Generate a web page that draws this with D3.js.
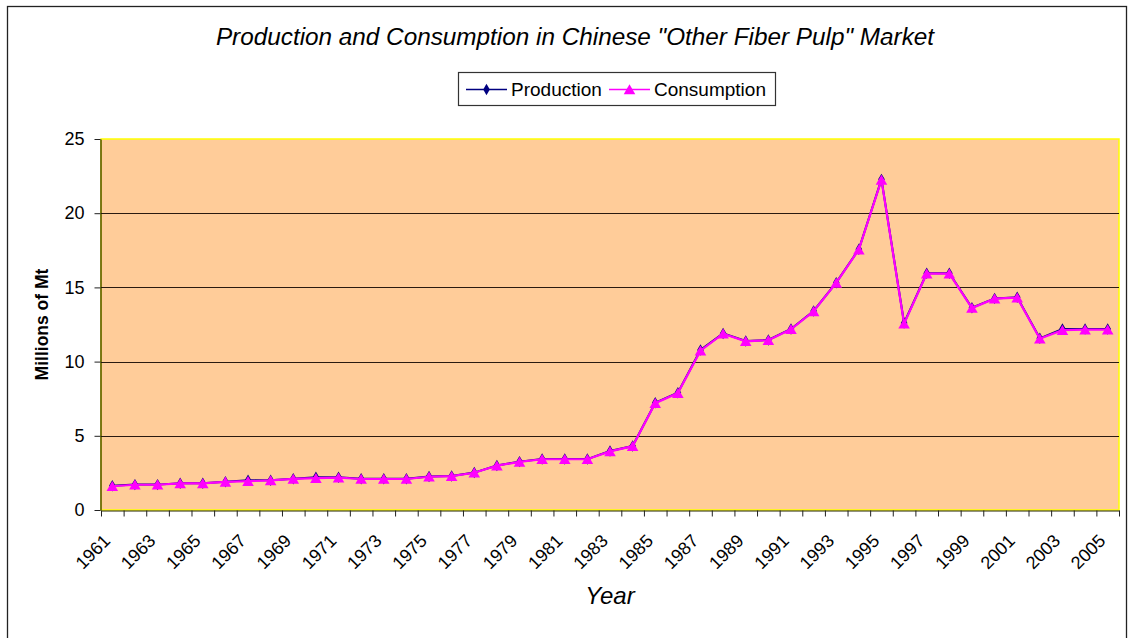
<!DOCTYPE html>
<html>
<head>
<meta charset="utf-8">
<script src="https://cdn.jsdelivr.net/npm/d3@7"></script>
<style>
  html, body { margin: 0; padding: 0; background: #ffffff; }
  svg { display: block; font-family: "Liberation Sans", Arial, sans-serif; }
</style>
</head>
<body>
<svg id="chart" width="1133" height="638"></svg>
<script>
// Chinese "other fiber pulp" market, millions of tonnes per year
const years = [1961, 1962, 1963, 1964, 1965, 1966, 1967, 1968, 1969, 1970,
               1971, 1972, 1973, 1974, 1975, 1976, 1977, 1978, 1979, 1980,
               1981, 1982, 1983, 1984, 1985, 1986, 1987, 1988, 1989, 1990,
               1991, 1992, 1993, 1994, 1995, 1996, 1997, 1998, 1999, 2000,
               2001, 2002, 2003, 2004, 2005];

const production = [1.64, 1.71, 1.71, 1.80, 1.80, 1.91, 2.00, 2.00, 2.11, 2.20,
                    2.20, 2.10, 2.10, 2.10, 2.25, 2.29, 2.52, 3.00, 3.26, 3.43,
                    3.43, 3.43, 3.97, 4.31, 7.23, 7.90, 10.78, 11.90, 11.39, 11.46,
                    12.20, 13.41, 15.32, 17.57, 22.28, 12.60, 15.95, 15.95, 13.63, 14.26,
                    14.33, 11.57, 12.20, 12.20, 12.20];

const consumption = [1.60, 1.70, 1.70, 1.79, 1.79, 1.90, 1.94, 1.99, 2.10, 2.15,
                     2.18, 2.09, 2.09, 2.09, 2.24, 2.28, 2.51, 2.99, 3.24, 3.42,
                     3.42, 3.42, 3.95, 4.30, 7.20, 7.88, 10.74, 11.88, 11.37, 11.44,
                     12.18, 13.39, 15.30, 17.55, 22.25, 12.56, 15.93, 15.93, 13.61, 14.24,
                     14.31, 11.54, 12.12, 12.15, 12.15];

const yTicks = [0, 5, 10, 15, 20, 25];
const labelYears = years.filter((y, i) => i % 2 === 0);

const svg = d3.select("#chart");

// outer chart frame
svg.append("rect")
  .attr("x", 7.5).attr("y", 6.5)
  .attr("width", 1119).attr("height", 660)
  .attr("fill", "#ffffff")
  .attr("stroke", "#222222").attr("stroke-width", 1.3);

const plot = { left: 101, top: 139, right: 1119, bottom: 510 };

const x = d3.scaleBand()
  .domain(years)
  .range([plot.left, plot.right])
  .paddingInner(0).paddingOuter(0);

// category boundaries for tick marks
const xEdge = d3.scaleLinear()
  .domain([0, years.length])
  .range([plot.left, plot.right]);

const y = d3.scaleLinear()
  .domain([0, 25])
  .range([plot.bottom, plot.top]);

// plot area
svg.append("rect")
  .attr("x", plot.left).attr("y", plot.top)
  .attr("width", plot.right - plot.left)
  .attr("height", plot.bottom - plot.top)
  .attr("fill", "#FFCC99")
  .attr("stroke", "#FFFF00").attr("stroke-width", 1.5);

// horizontal gridlines
svg.append("g")
  .selectAll("line")
  .data(yTicks.filter(v => v > 0 && v < 25))
  .join("line")
  .attr("x1", plot.left).attr("x2", plot.right)
  .attr("y1", d => Math.round(y(d)) + 0.5)
  .attr("y2", d => Math.round(y(d)) + 0.5)
  .attr("stroke", "#2a1a10").attr("stroke-width", 1);

// y axis
const yAxis = svg.append("g")
  .attr("transform", `translate(${plot.left - 0.5},0)`)
  .call(d3.axisLeft(y).tickValues(yTicks).tickSize(6).tickPadding(10).tickSizeOuter(0));
yAxis.select(".domain").attr("stroke", "#222200").attr("stroke-width", 1.2);
yAxis.selectAll(".tick line").attr("stroke", "#222222");
yAxis.selectAll(".tick text")
  .attr("font-family", "Liberation Sans, Arial, sans-serif")
  .attr("font-size", 18).attr("fill", "#000");

// x axis tick marks at category boundaries
const xTickAxis = svg.append("g")
  .attr("transform", `translate(0,${plot.bottom + 0.5})`)
  .call(d3.axisBottom(xEdge).tickValues(d3.range(0, years.length + 1)).tickSize(6)
        .tickFormat("").tickSizeOuter(0));
xTickAxis.select(".domain").attr("stroke", "#222200").attr("stroke-width", 1.2);
xTickAxis.selectAll(".tick line").attr("stroke", "#222222");

// x axis labels, every other year, rotated
const xLabelAxis = svg.append("g")
  .attr("transform", `translate(0,${plot.bottom})`)
  .call(d3.axisBottom(x).tickValues(labelYears).tickSize(0).tickPadding(0));
xLabelAxis.select(".domain").remove();
xLabelAxis.selectAll(".tick text")
  .attr("font-family", "Liberation Sans, Arial, sans-serif")
  .attr("font-size", 18).attr("fill", "#000")
  .attr("text-anchor", "end")
  .attr("dy", null).attr("y", null)
  .attr("transform", "translate(-1,32) rotate(-45)");

// series lines
const line = data => d3.line()
  .x((d, i) => x(years[i]) + x.bandwidth() / 2)
  .y(d => y(d))(data);

svg.append("path")
  .attr("d", line(production))
  .attr("fill", "none").attr("stroke", "#000080").attr("stroke-width", 2);

const diamond = d3.symbol().type(d3.symbolDiamond).size(38);
svg.append("g").selectAll("path")
  .data(production)
  .join("path")
  .attr("d", diamond)
  .attr("transform", (d, i) => `translate(${x(years[i]) + x.bandwidth() / 2},${y(d)})`)
  .attr("fill", "#000080");

svg.append("path")
  .attr("d", line(consumption))
  .attr("fill", "none").attr("stroke", "#FF00FF").attr("stroke-width", 2.2);

const triangle = d3.symbol().type(d3.symbolTriangle).size(58);
svg.append("g").selectAll("path")
  .data(consumption)
  .join("path")
  .attr("d", triangle)
  .attr("transform", (d, i) => `translate(${x(years[i]) + x.bandwidth() / 2},${y(d) + 1.5})`)
  .attr("fill", "#FF00FF");

// title
svg.append("text")
  .attr("x", 575).attr("y", 45)
  .attr("text-anchor", "middle")
  .attr("font-size", 24.3).attr("font-style", "italic")
  .text('Production and Consumption in Chinese "Other Fiber Pulp" Market');

// axis titles
svg.append("text")
  .attr("x", (plot.left + plot.right) / 2).attr("y", 604)
  .attr("text-anchor", "middle")
  .attr("font-size", 24).attr("font-style", "italic")
  .text("Year");

svg.append("text")
  .attr("transform", `translate(48,${(plot.top + plot.bottom) / 2}) rotate(-90)`)
  .attr("text-anchor", "middle")
  .attr("font-size", 17.5).attr("font-weight", "bold")
  .text("Millions of Mt");

// legend
const legend = svg.append("g");
legend.append("rect")
  .attr("x", 458.5).attr("y", 72.5)
  .attr("width", 317).attr("height", 33)
  .attr("fill", "#ffffff").attr("stroke", "#333333").attr("stroke-width", 1.2);

const legendItems = [
  { name: "Production", color: "#000080", symbol: diamond, lx: 466, tx: 511, dy: 0 },
  { name: "Consumption", color: "#FF00FF", symbol: triangle, lx: 609, tx: 654, dy: 1.5 }
];
legendItems.forEach(it => {
  legend.append("line")
    .attr("x1", it.lx).attr("x2", it.lx + 41)
    .attr("y1", 89.5).attr("y2", 89.5)
    .attr("stroke", it.color).attr("stroke-width", 1.5);
  legend.append("path")
    .attr("d", it.symbol)
    .attr("transform", `translate(${it.lx + 20.5},${89.5 + it.dy})`)
    .attr("fill", it.color);
  legend.append("text")
    .attr("x", it.tx).attr("y", 96)
    .attr("font-size", 19)
    .text(it.name);
});
</script>
</body>
</html>
